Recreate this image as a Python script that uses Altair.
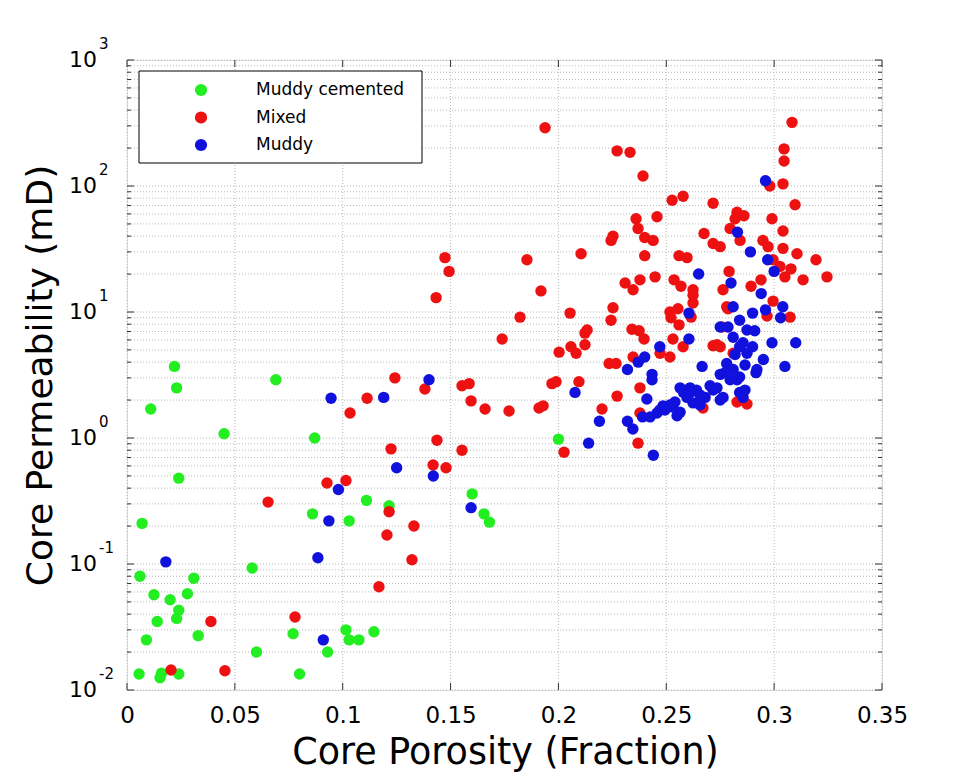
import altair as alt
import pandas as pd

# ---------------- data ----------------
green_por = [0.022, 0.023, 0.011, 0.069, 0.045, 0.087, 0.024, 0.111, 0.086, 0.103,
             0.007, 0.058, 0.006, 0.031, 0.0125, 0.020, 0.028, 0.024, 0.014, 0.023,
             0.033, 0.009, 0.077, 0.1015, 0.103, 0.1075, 0.1145, 0.060, 0.093, 0.0056,
             0.0153, 0.016, 0.024, 0.080, 0.1215, 0.160, 0.1655, 0.168, 0.200]
green_perm = [3.7, 2.5, 1.7, 2.9, 1.08, 1.0, 0.48, 0.32, 0.25, 0.22,
              0.21, 0.093, 0.080, 0.077, 0.057, 0.052, 0.058, 0.043, 0.035, 0.037,
              0.027, 0.025, 0.028, 0.030, 0.025, 0.025, 0.029, 0.020, 0.020, 0.0134,
              0.0125, 0.0136, 0.0134, 0.0134, 0.29, 0.36, 0.25, 0.215, 0.98]

red_por = [0.1113, 0.1034, 0.0927, 0.1015, 0.0654, 0.1168, 0.0779, 0.0389, 0.0204, 0.0454,
           0.1242, 0.1381, 0.1553, 0.1586, 0.1595, 0.166, 0.1771, 0.191, 0.1929, 0.197,
           0.1989, 0.2095, 0.2272, 0.2202,
           0.1437, 0.1224, 0.1553, 0.2026, 0.1419, 0.1479, 0.1215, 0.133, 0.1205, 0.1321,
           0.1938, 0.2272, 0.2332, 0.2392, 0.3083, 0.3046, 0.3046, 0.3041, 0.298, 0.3097,
           0.2527, 0.2578, 0.2717, 0.236, 0.2369, 0.2457, 0.2828, 0.2819, 0.286, 0.299,
           0.2253, 0.2244, 0.240, 0.2439, 0.240, 0.2675, 0.2796, 0.2842, 0.2717, 0.275,
           0.2948, 0.2972, 0.3041, 0.3041, 0.3106, 0.3194,
           0.1854, 0.2105, 0.2559, 0.2596, 0.2995, 0.3027, 0.3078, 0.305, 0.3134, 0.3245,
           0.2791, 0.2939,
           0.2309, 0.2346, 0.2378, 0.2448, 0.2536, 0.2568, 0.2624, 0.2624, 0.2624, 0.2763,
           0.2893, 0.2995, 0.1919,
           0.1822, 0.2054, 0.2253, 0.2244, 0.2522, 0.2554, 0.2559, 0.2615, 0.2786, 0.2967,
           0.3074,
           0.1739, 0.2003, 0.2058, 0.2082, 0.2123, 0.2133, 0.2123, 0.2341, 0.2374, 0.2397,
           0.2531, 0.2578, 0.2717, 0.275, 0.2758,
           0.2235, 0.2267, 0.2471, 0.2517, 0.2346, 0.2378, 0.2378, 0.267, 0.2828, 0.2874,
           0.281, 0.2369, 0.2842, 0.278, 0.2517, 0.2735,
           0.1474, 0.1493, 0.1433]
red_perm = [2.07, 1.58, 0.44, 0.46, 0.31, 0.066, 0.038, 0.035, 0.0144, 0.0142,
            3.0, 2.45, 2.6, 2.7, 1.97, 1.7, 1.64, 1.73, 1.8, 2.7,
            2.8, 2.8, 2.15, 1.7,
            0.96, 0.82, 0.80, 0.77, 0.61, 0.58, 0.26, 0.20, 0.17, 0.108,
            290, 190, 185, 120, 320, 197, 158, 104, 100, 71,
            77, 83, 73, 55, 46, 57, 62, 55, 58, 55,
            40, 37, 39, 37, 28, 42, 46, 37, 35, 33,
            37, 33, 44, 32, 29, 26,
            26, 29, 28, 27, 26, 23, 22, 19, 18, 19,
            21, 18,
            17, 15, 18, 19, 18, 16, 15, 13.6, 11.8, 15,
            16, 12.2, 14.7,
            9.1, 9.8, 10.8, 8.6, 9.0, 10.6, 7.9, 9.1, 10.6, 9.3,
            9.1,
            6.1, 4.8, 5.3, 4.7, 6.8, 7.2, 5.5, 7.3, 7.1, 6.1,
            6.1, 5.3, 5.4, 5.3, 7.6,
            3.9, 3.9, 4.7, 4.4, 4.4, 2.5, 1.58, 1.73, 1.93, 1.86,
            4.7, 0.91, 2.0, 11, 10, 5.5,
            27, 21, 13]

blue_por = [0.0946, 0.098, 0.0936, 0.018, 0.0885, 0.091, 0.119, 0.140, 0.125, 0.142,
            0.1595, 0.2077, 0.219, 0.232, 0.214, 0.232, 0.244, 0.2345, 0.296, 0.283,
            0.289, 0.297, 0.300, 0.265, 0.280, 0.294, 0.281, 0.290, 0.296, 0.304,
            0.303, 0.310, 0.299, 0.305, 0.2605, 0.2605, 0.247, 0.2786, 0.281, 0.284,
            0.2874, 0.291, 0.284, 0.290, 0.295, 0.2916, 0.240, 0.237, 0.2434, 0.2434,
            0.2666, 0.278, 0.275, 0.284, 0.241, 0.261, 0.258, 0.2656, 0.2717, 0.275,
            0.284, 0.2485, 0.253, 0.2564, 0.2457, 0.239, 0.2425, 0.247, 0.2517, 0.2564,
            0.264, 0.2596, 0.2624, 0.255, 0.2735, 0.2763, 0.281, 0.2828, 0.2856, 0.2796,
            0.2856, 0.2874, 0.292, 0.275,
            0.261, 0.268, 0.2703, 0.254, 0.2494, 0.2772, 0.2865, 0.2819, 0.2865, 0.2656]
blue_perm = [2.07, 0.39, 0.22, 0.104, 0.112, 0.025, 2.1, 2.9, 0.58, 0.50,
             0.28, 2.3, 1.36, 1.36, 0.91, 3.5, 0.73, 1.18, 110, 43,
             30, 26, 21, 20, 17, 14, 11, 9.8, 10.4, 11,
             9.0, 5.7, 5.7, 3.7, 9.8, 6.1, 5.3, 7.6, 6.3, 8.6,
             7.2, 7.1, 5.3, 5.3, 4.2, 3.3, 4.4, 4.0, 3.2, 2.9,
             3.7, 3.9, 3.2, 3.05, 2.04, 2.5, 2.3, 2.2, 2.4, 2.0,
             2.3, 1.8, 1.76, 1.6, 1.58, 1.47, 1.47, 1.67, 1.83, 2.5,
             2.4, 2.1, 1.9, 1.5, 2.5, 2.1, 3.5, 2.9, 2.1, 2.9,
             5.7, 4.7, 3.5, 7.6,
             2.3, 2.1, 2.6, 1.93, 1.67, 3.3, 3.8, 4.6, 2.4, 1.83]

categories = ["Muddy cemented", "Mixed", "Muddy"]
colors = ["#22ee22", "#ee1111", "#1111dd"]

x_ticks = [0, 0.05, 0.1, 0.15, 0.2, 0.25, 0.3, 0.35]
y_decades = [0.01, 0.1, 1, 10, 100, 1000]
y_exponents = ["-2", "-1", "0", "1", "2", "3"]
y_minor = [m * d for d in [0.01, 0.1, 1, 10, 100] for m in range(2, 10)]

# ---------------- tables ----------------
pts = pd.concat([
    pd.DataFrame({"por": green_por, "perm": green_perm, "facies": categories[0]}),
    pd.DataFrame({"por": red_por, "perm": red_perm, "facies": categories[1]}),
    pd.DataFrame({"por": blue_por, "perm": blue_perm, "facies": categories[2]}),
], ignore_index=True)

W, H = 755, 630
FONT = "DejaVu Sans"

xscale = alt.Scale(domain=[0, 0.35], nice=False, zero=False)
yscale = alt.Scale(type="log", domain=[0.01, 1000], nice=False)

xgrid = pd.DataFrame({"v": x_ticks})
ygrid = pd.DataFrame({"v": y_minor + y_decades})

# gridlines
grid_x = alt.Chart(xgrid).mark_rule(color="#b8b8b8", strokeDash=[1, 2], strokeWidth=1).encode(
    x=alt.X("v:Q", scale=xscale,
            axis=alt.Axis(values=x_ticks, format=".2~f", title="Core Porosity (Fraction)",
                          ticks=False, domain=False, grid=False, labelFontSize=23,
                          labelPadding=14, labelFont=FONT, labelColor="black",
                          labelFlush=False, labelOverlap=False,
                          titleFont=FONT, titleFontSize=36.5, titleFontWeight="normal",
                          titleColor="black", titleX=378, titleY=62, titleBaseline="middle",
                          titleAlign="center")),
)
grid_y = alt.Chart(ygrid).mark_rule(color="#b8b8b8", strokeDash=[1, 2], strokeWidth=1).encode(
    y=alt.Y("v:Q", scale=yscale,
            axis=alt.Axis(labels=False, ticks=False, domain=False, grid=False,
                          title="Core Permeability (mD)", titleFont=FONT, titleFontSize=36,
                          titleFontWeight="normal", titleColor="black", titleX=-87,
                          titleY=315, titleAngle=-90, titleAlign="center",
                          titleBaseline="middle")),
)

# inward ticks on all four sides
tick_x_bottom = alt.Chart(xgrid).mark_rule(color="#333333").encode(
    x=alt.X("v:Q", scale=xscale), y=alt.value(H), y2=alt.value(H - 7))
tick_x_top = alt.Chart(xgrid).mark_rule(color="#333333").encode(
    x=alt.X("v:Q", scale=xscale), y=alt.value(0), y2=alt.value(7))
dec_df = pd.DataFrame({"v": y_decades, "e": y_exponents})
min_df = pd.DataFrame({"v": y_minor})
tick_y_l = alt.Chart(dec_df).mark_rule(color="#333333").encode(
    y=alt.Y("v:Q", scale=yscale), x=alt.value(0), x2=alt.value(7))
tick_y_r = alt.Chart(dec_df).mark_rule(color="#333333").encode(
    y=alt.Y("v:Q", scale=yscale), x=alt.value(W), x2=alt.value(W - 7))
tick_ym_l = alt.Chart(min_df).mark_rule(color="#333333").encode(
    y=alt.Y("v:Q", scale=yscale), x=alt.value(0), x2=alt.value(4))
tick_ym_r = alt.Chart(min_df).mark_rule(color="#333333").encode(
    y=alt.Y("v:Q", scale=yscale), x=alt.value(W), x2=alt.value(W - 4))

# y tick labels as 10^n
lab10 = alt.Chart(dec_df).mark_text(align="right", baseline="middle", fontSize=22,
                                    font=FONT, color="black").encode(
    y=alt.Y("v:Q", scale=yscale), x=alt.value(-30), text=alt.value("10"))
labexp = alt.Chart(dec_df).mark_text(align="left", baseline="middle", fontSize=15,
                                     font=FONT, color="black", dy=-16).encode(
    y=alt.Y("v:Q", scale=yscale), x=alt.value(-28), text="e:N")

# data points
points = alt.Chart(pts).mark_circle(size=130, opacity=1).encode(
    x=alt.X("por:Q", scale=xscale),
    y=alt.Y("perm:Q", scale=yscale),
    color=alt.Color("facies:N", scale=alt.Scale(domain=categories, range=colors), legend=None),
)

# legend box
one = pd.DataFrame({"a": [0]})
leg_box = alt.Chart(one).mark_rect(fill="white", stroke="black", strokeWidth=1).encode(
    x=alt.value(12), x2=alt.value(295), y=alt.value(11), y2=alt.value(103))
leg_layers = [leg_box]
for i, (cat, col) in enumerate(zip(categories, colors)):
    yy = 30 + 27.5 * i
    leg_layers.append(alt.Chart(one).mark_circle(size=150, opacity=1, color=col).encode(
        x=alt.value(74), y=alt.value(yy)))
    leg_layers.append(alt.Chart(one).mark_text(align="left", baseline="middle", fontSize=17,
                                               font=FONT, color="black").encode(
        x=alt.value(129), y=alt.value(yy), text=alt.value(cat)))

chart = alt.layer(
    grid_x, grid_y, points,
    tick_x_bottom, tick_x_top, tick_y_l, tick_y_r, tick_ym_l, tick_ym_r,
    lab10, labexp, *leg_layers
).properties(
    width=W, height=H,
    autosize=alt.AutoSizeParams(type="none"),
    padding={"left": 119, "top": 52, "right": 80, "bottom": 110},
).configure_view(stroke="#222222", strokeWidth=1.2).configure(background="white")

chart.save("out.html", embed_options={"renderer": "svg", "actions": False})
